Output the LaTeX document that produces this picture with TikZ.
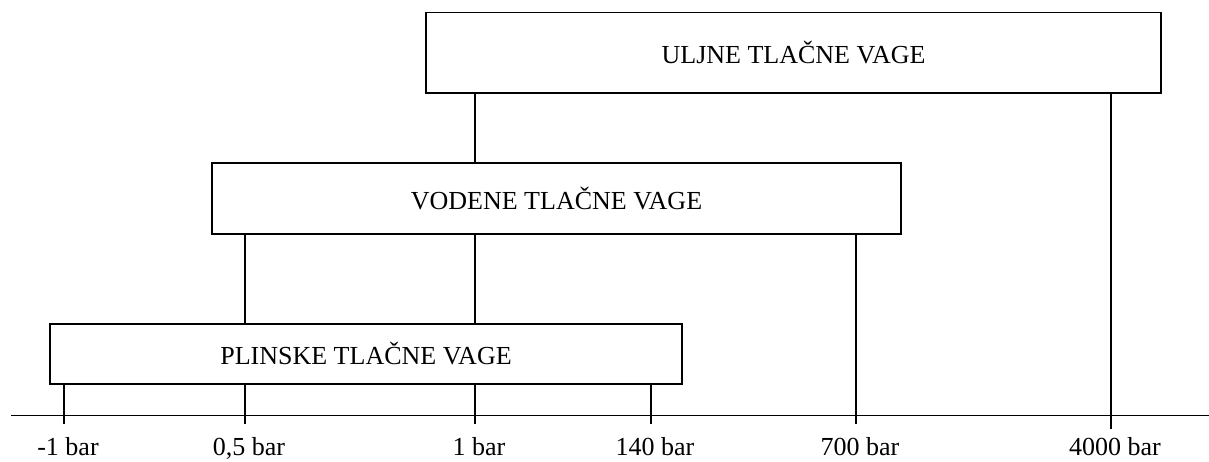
\documentclass[tikz,border=0pt]{standalone}
\usepackage{fontspec}
\setmainfont{Liberation Serif}
\usetikzlibrary{positioning}
\tikzset{
  vaga/.style={draw, rectangle, inner sep=0pt, font=\fontsize{19.5}{23}\selectfont},
  oznaka/.style={anchor=base, inner sep=0pt, font=\fontsize{19.5}{23}\selectfont}
}

\begin{document}
\begin{tikzpicture}[x=0.75pt, y=-0.75pt, line width=0.9pt]
    \useasboundingbox (0,0) rectangle (1209,461);
    \node[vaga, minimum width=551.25pt, minimum height=60.4pt] (ulje) at (793.5,52.75) {ULJNE TLAČNE VAGE};
    \node[vaga, minimum width=516.75pt, minimum height=53.25pt] (voda) at (556.5,198.5) {VODENE TLAČNE VAGE};
    \node[vaga, minimum width=474pt, minimum height=45pt] (plin) at (366,354) {PLINSKE TLAČNE VAGE};

    % os tlaka
    \coordinate (osL) at (11,415.5);
    \coordinate (osD) at (1209,415.5);
    \draw (osL) -- (osD);

    \foreach \x/\t/\txt in {64/t1/-1 bar, 245/t2/{0,5 bar}, 475/t3/1 bar, 651/t4/140 bar, 856/t5/700 bar} {
        \coordinate (\t) at (\x,424);
        \node[oznaka] (l\t) at (\x+4,455) {\txt};
    }
    \coordinate (t6) at (1111,429);
    \node[oznaka] (lt6) at (1115,455) {4000 bar};

    \draw (ulje.south -| t3) -- (voda.north -| t3);
    \draw (ulje.south -| t6) -- (t6);
    \draw (voda.south -| t2) -- (plin.north -| t2);
    \draw (voda.south -| t3) -- (plin.north -| t3);
    \draw (voda.south -| t5) -- (t5);
    \foreach \t in {t1,t2,t3,t4}
        \draw (plin.south -| \t) -- (\t);
\end{tikzpicture}
\end{document}
